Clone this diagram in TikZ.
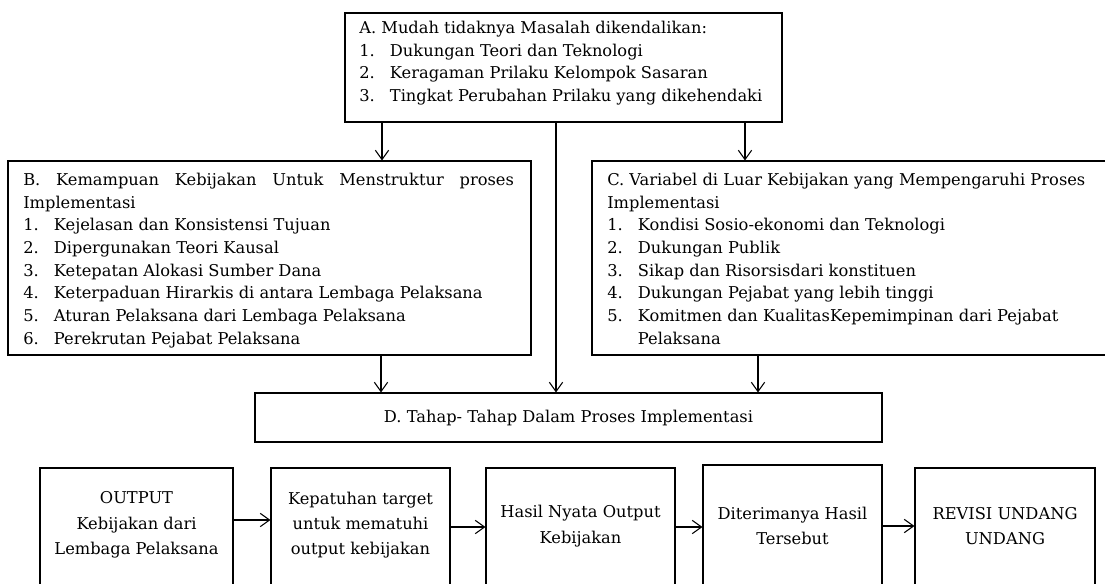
\documentclass[tikz,border=0pt]{standalone}
\usepackage{fontspec}
\setmainfont{DejaVu Serif}
\usetikzlibrary{arrows.meta,fit}
\newcommand{\itemno}[1]{\makebox[23pt][l]{#1}}
\begin{document}
\begin{tikzpicture}[x=0.75pt,y=-0.75pt,
    panel/.style={draw,line width=0.8pt,inner sep=0pt},
    listtext/.style={inner sep=0pt,anchor=north west,align=left,font=\fontsize{12.2}{17}\selectfont},
    boxtext/.style={inner sep=0pt,align=center,font=\fontsize{12.2}{19}\selectfont},
    arr/.style={line width=0.8pt,-{Straight Barb[length=7pt,width=10pt]}}]
  \useasboundingbox (0,0) rectangle (1105,583);
  \clip (0,0) rectangle (1105,583);
  \node[panel,fit={(345,13) (782,122)}] (A) {};
  \node[panel,fit={(8,161) (531,355)}] (B) {};
  \node[panel,fit={(592,161) (1120,355)}] (C) {};
  \node[panel,fit={(255,393) (882,442)}] (D) {};
  \node[boxtext,anchor=base] (Dtext) at (568.5,422) {D. Tahap- Tahap Dalam Proses Implementasi};
  \node[listtext] (Atext) at (359,21) {A. Mudah tidaknya Masalah dikendalikan:\\
    \itemno{1.}Dukungan Teori dan Teknologi\\
    \itemno{2.}Keragaman Prilaku Kelompok Sasaran\\
    \itemno{3.}Tingkat Perubahan Prilaku yang dikehendaki};
  \node[listtext,text width=368pt,align=justify] (Btext) at (23,173) {\noindent B. Kemampuan Kebijakan Untuk Menstruktur proses\linebreak
    Implementasi\\
    \itemno{1.}Kejelasan dan Konsistensi Tujuan\\
    \itemno{2.}Dipergunakan Teori Kausal\\
    \itemno{3.}Ketepatan Alokasi Sumber Dana\\
    \itemno{4.}Keterpaduan Hirarkis di antara Lembaga Pelaksana\\
    \itemno{5.}Aturan Pelaksana dari Lembaga Pelaksana\\
    \itemno{6.}Perekrutan Pejabat Pelaksana};
  \node[listtext] (Ctext) at (607,173) {C. Variabel di Luar Kebijakan yang Mempengaruhi Proses\\
    Implementasi\\
    \itemno{1.}Kondisi Sosio-ekonomi dan Teknologi\\
    \itemno{2.}Dukungan Publik\\
    \itemno{3.}Sikap dan Risorsisdari konstituen\\
    \itemno{4.}Dukungan Pejabat yang lebih tinggi\\
    \itemno{5.}Komitmen dan KualitasKepemimpinan dari Pejabat\\
    \itemno{}Pelaksana};
  \node[panel,fit={(40,468) (233,600)}] (out1) {};
  \node[panel,fit={(271,468) (450,600)}] (out2) {};
  \node[panel,fit={(486,468) (675,600)}] (out3) {};
  \node[panel,fit={(703,465) (882,600)}] (out4) {};
  \node[panel,fit={(915,468) (1095,600)}] (out5) {};
  \node[boxtext] (out1text) at (136.5,525) {OUTPUT\\Kebijakan dari\\Lembaga Pelaksana};
  \node[boxtext] (out2text) at (360.5,525) {Kepatuhan target\\untuk mematuhi\\output kebijakan};
  \node[boxtext] (out3text) at (580.5,526) {Hasil Nyata Output\\Kebijakan};
  \node[boxtext] (out4text) at (792.5,526) {Diterimanya Hasil\\Tersebut};
  \node[boxtext] (out5text) at (1005,526) {REVISI UNDANG\\UNDANG};
  \draw[arr] (A.south -| 382,0) -- (B.north -| 382,0);
  \draw[arr] (A.south -| 745,0) -- (C.north -| 745,0);
  \draw[arr] (A.south -| 556,0) -- (D.north -| 556,0);
  \draw[arr] (B.south -| 381,0) -- (D.north -| 381,0);
  \draw[arr] (C.south -| 758,0) -- (D.north -| 758,0);
  \draw[arr] (out1.east |- 0,520) -- (out2.west |- 0,520);
  \draw[arr] (out2.east |- 0,527) -- (out3.west |- 0,527);
  \draw[arr] (out3.east |- 0,527) -- (out4.west |- 0,527);
  \draw[arr] (out4.east |- 0,526) -- (out5.west |- 0,526);
\end{tikzpicture}
\end{document}
